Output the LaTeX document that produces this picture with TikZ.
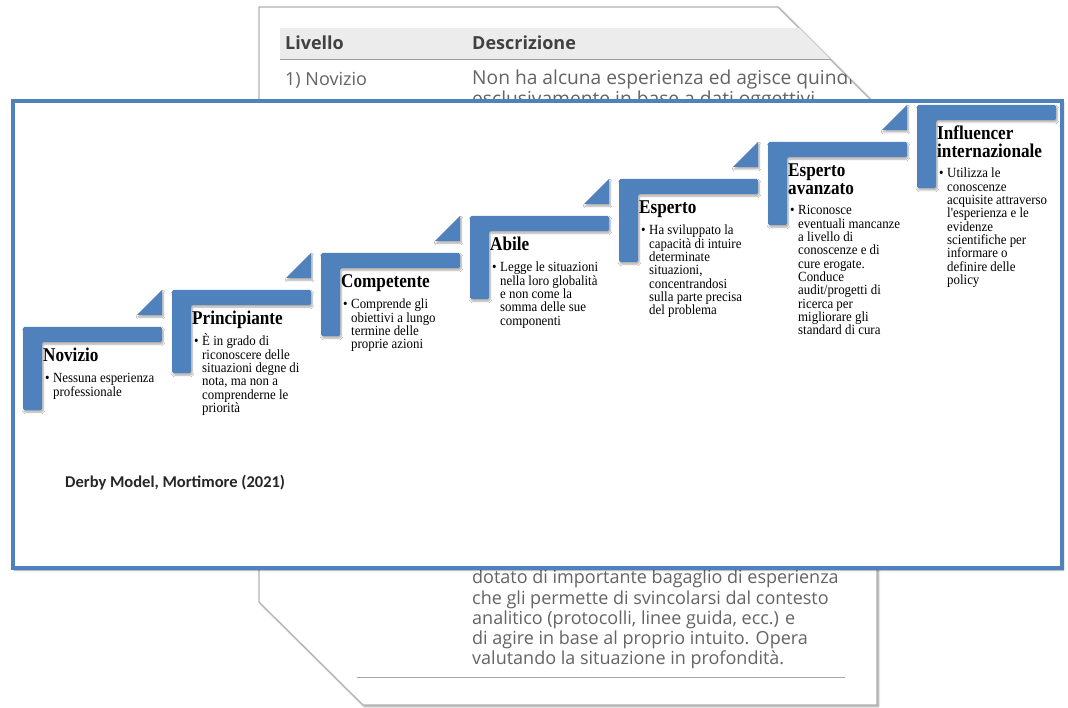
\documentclass[tikz,border=0pt]{standalone}
\usepackage{fontspec}
\setmainfont{Liberation Serif}
\newfontfamily\papfont{Open Sans}
\newfontfamily\capfont{Carlito}
\newfontfamily\titlefont[FakeStretch=0.88]{Liberation Serif}
\newfontfamily\bodyfont[FakeStretch=0.92]{Liberation Serif}
\usetikzlibrary{shadows.blur}
\definecolor{stepblue}{RGB}{79,129,189}
\definecolor{papertext}{RGB}{100,100,100}
\definecolor{paperhead}{RGB}{65,65,65}
\definecolor{headband}{RGB}{236,236,236}
\tikzset{
  papertxt/.style={anchor=west, inner sep=0pt, text=papertext, font=\papfont\fontsize{18}{20}\selectfont},
  papertxtb/.style={papertxt, font=\papfont\fontsize{19.2}{20}\selectfont},
  paperhd/.style={anchor=west, inner sep=0pt, text=paperhead, font=\papfont\bfseries\fontsize{18}{20}\selectfont},
  stepshape/.style={fill=stepblue, rounded corners=1.5pt, blur shadow={shadow xshift=1pt, shadow yshift=-2pt, shadow blur steps=6, shadow opacity=35}},
  steptri/.style={fill=stepblue, blur shadow={shadow xshift=1pt, shadow yshift=-2pt, shadow blur steps=6, shadow opacity=35}},
  steptitle/.style={anchor=base west, inner sep=0pt, align=left, font=\titlefont\bfseries\fontsize{19.5}{17.5}\selectfont},
  stepbody/.style={anchor=base west, inner sep=0pt, align=left, font=\bodyfont\fontsize{14}{13.3}\selectfont},
}
\newcommand\stepL[2]{%
  \path[stepshape] (#1,#2) -- ++(139,0) -- ++(0,15) -- ++(-120,0) -- ++(0,68) -- ++(-19,0) -- cycle;}
\newcommand\stepT[2]{%
  \path[steptri] (#1-35,#2+25) -- (#1-10,#2) -- (#1-10,#2+25) -- cycle;}
\newcommand\bul[1]{\makebox[8pt][l]{\textbullet}\parbox[t]{120pt}{\raggedright #1}}
\begin{document}
\begin{tikzpicture}[x=1pt,y=-1pt]
\useasboundingbox (0,0) rectangle (1068,708);
% ---- paper in the background
\coordinate (p1) at (259,7);
\coordinate (p2) at (778,7);
\coordinate (p3) at (877,106);
\coordinate (p4) at (877,705);
\coordinate (p5) at (363,705);
\coordinate (p6) at (259,602);
\path[draw=gray!60, line width=1.2pt, fill=white, blur shadow={shadow xshift=1.5pt, shadow yshift=-1.5pt, shadow blur steps=6, shadow opacity=40}]
  (p1) -- (p2) -- (p3) -- (p4) -- (p5) -- (p6) -- cycle;
\begin{scope}
  \clip (p1) -- (p2) -- (p3) -- (p4) -- (p5) -- (p6) -- cycle;
  \fill[headband] (280,28) rectangle (877,59);
  \draw[gray!75, line width=1pt] (280,60) -- (877,60);
  \node[paperhd] (hlev) at (285,43) {Livello};
  \node[paperhd] (hdesc) at (472,43) {Descrizione};
  \node[papertxt] (r1a) at (285,80) {1) Novizio};
  \node[papertxtb] (r1b) at (472,80) {Non ha alcuna esperienza ed agisce quindi};
  \node[papertxtb] (r1c) at (472,101) {esclusivamente in base a dati oggettivi};
  \node[papertxt] (b1) at (472,579) {dotato di importante bagaglio di esperienza};
  \node[papertxt] (b2) at (472,600) {che gli permette di svincolarsi dal contesto};
  \node[papertxt] (b3) at (472,620) {analitico (protocolli, linee guida, ecc.) e};
  \node[papertxt] (b4) at (472,640) {di agire in base al proprio intuito. Opera};
  \node[papertxt] (b5) at (472,660) {valutando la situazione in profondità.};
  \draw[gray!70, line width=1pt] (357,677) -- (845,677);
\end{scope}
% ---- blue frame
\path[draw=stepblue, line width=4pt, fill=white, blur shadow={shadow xshift=1.5pt, shadow yshift=-2pt, shadow blur steps=6, shadow opacity=40}]
  (13,101) rectangle (1062,568);
% ---- steps
\stepL{23}{327}
\stepL{172}{290}
\stepL{321}{253}
\stepL{470}{216}
\stepL{619}{179}
\stepL{768}{142}
\stepL{917}{105}
\stepT{172}{290}
\stepT{321}{253}
\stepT{470}{216}
\stepT{619}{179}
\stepT{768}{142}
\stepT{917}{105}
% ---- texts
\node[steptitle] (n1) at (43,362) {Novizio};
\node[stepbody] (d1) at (45,383) {\bul{Nessuna esperienza\\professionale}};
\node[steptitle] (n2) at (192,325) {Principiante};
\node[stepbody] (d2) at (194,346) {\bul{È in grado di\\riconoscere delle\\situazioni degne di\\nota, ma non a\\comprenderne le\\priorità}};
\node[steptitle] (n3) at (341,288) {Competente};
\node[stepbody] (d3) at (343,309) {\bul{Comprende gli\\obiettivi a lungo\\termine delle\\proprie azioni}};
\node[steptitle] (n4) at (490,251) {Abile};
\node[stepbody] (d4) at (492,272) {\bul{Legge le situazioni\\nella loro globalità\\e non come la\\somma delle sue\\componenti}};
\node[steptitle] (n5) at (639,214) {Esperto};
\node[stepbody] (d5) at (641,235) {\bul{Ha sviluppato la\\capacità di intuire\\determinate\\situazioni,\\concentrandosi\\sulla parte precisa\\del problema}};
\node[steptitle] (n6) at (788,194.5) {Esperto\\avanzato};
\node[stepbody] (d6) at (790,215) {\bul{Riconosce\\eventuali mancanze\\a livello di\\conoscenze e di\\cure erogate.\\Conduce\\audit/progetti di\\ricerca per\\migliorare gli\\standard di cura}};
\node[steptitle] (n7) at (937,157.5) {Influencer\\internazionale};
\node[stepbody] (d7) at (939,178) {\bul{Utilizza le\\conoscenze\\acquisite attraverso\\l'esperienza e le\\evidenze\\scientifiche per\\informare o\\definire delle\\policy}};
\node[anchor=west, inner sep=0pt, font=\capfont\bfseries\fontsize{16.5}{18}\selectfont, text=black!85] (src) at (65,483) {Derby Model, Mortimore (2021)};
\end{tikzpicture}
\end{document}
